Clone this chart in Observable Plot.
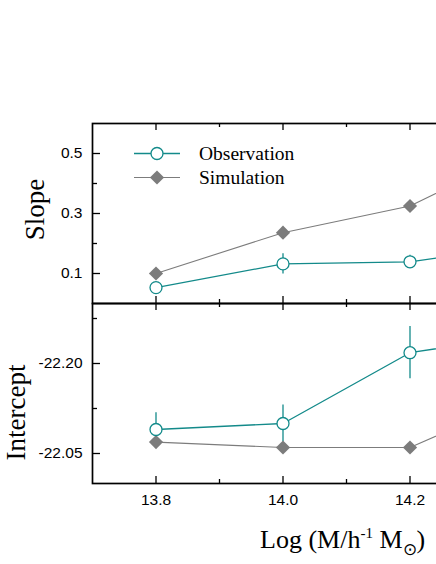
<!DOCTYPE html>
<html>
<head>
<meta charset="utf-8">
<script src="https://cdn.jsdelivr.net/npm/d3@7"></script>
<script src="https://cdn.jsdelivr.net/npm/@observablehq/plot@0.6"></script>
<style>
  html, body { margin: 0; padding: 0; background: white; overflow: hidden; }
  #wrap { position: relative; width: 436px; height: 564px; overflow: hidden; background: white; }
  #wrap > * { position: absolute; left: 0; }
  #xlabel { font-family: "Liberation Serif", serif; font-size: 26px; line-height: 26px; white-space: nowrap; color: #000; }
  #xlabel .sup { font-size: 15px; position: relative; top: -10px; }
  #xlabel .sub { font-size: 17px; position: relative; top: 7px; }
</style>
</head>
<body>
<div id="wrap"></div>
<script>
// ---- data ----
const massBins = [13.8, 14.0, 14.2, 14.4];
const obsSlope = [0.053, 0.132, 0.139, 0.198];
const obsSlopeErr = [0.015, 0.034, 0.022, null];
const simSlope = [0.100, 0.236, 0.325, 0.530];
const obsIntercept = [-22.090, -22.100, -22.218, -22.250];
const obsInterceptErr = [0.028, 0.031, 0.0435, null];
const simIntercept = [-22.069, -22.060, -22.060, -22.153];

const xMajor = [13.8, 14.0, 14.2, 14.4];
const xMinor = [13.9, 14.1, 14.3];
const xTickLabels = [13.8, 14.0, 14.2];
const slopeMajor = [0.1, 0.3, 0.5];
const slopeMinor = [0.2, 0.4];
const interceptMajor = [-22.20, -22.05];
const interceptMinor = [-22.275, -22.125];
const seriesNames = ["Observation", "Simulation"];

// ---- tables ----
const obsS = massBins.map((m, i) => ({m, v: obsSlope[i], e: obsSlopeErr[i]}));
const simS = massBins.map((m, i) => ({m, v: simSlope[i]}));
const obsI = massBins.map((m, i) => ({m, v: obsIntercept[i], e: obsInterceptErr[i]}));
const simI = massBins.map((m, i) => ({m, v: simIntercept[i]}));

const teal = "#138a8a";
const grey = "#7c7c7c";
const W = 610, ML = 92, MR = 10, PH = 180;
const PW = W - ML - MR;
const DIAMOND_R = 6.4;

const baseStyle = {
  background: "transparent", maxWidth: "none", overflow: "visible",
  fontFamily: "'Liberation Sans', Arial, sans-serif", fontSize: "15.5px", color: "black"
};
const tickFont = {fontSize: 15.5, fontFamily: "'Liberation Sans', Arial, sans-serif"};

function panelMarks(obs, sim, major, minor, digits, label, ldx, ldy) {
  return [
    Plot.frame({stroke: "black", strokeWidth: 1.7}),
    Plot.ruleY(major, {insetRight: PW - 8, stroke: "black", strokeWidth: 1.3}),
    Plot.ruleY(minor, {insetRight: PW - 5, stroke: "black", strokeWidth: 1.3}),
    Plot.ruleX(xMajor, {insetBottom: PH - 7, stroke: "black", strokeWidth: 1.3}),
    Plot.ruleX(xMinor, {insetBottom: PH - 4, stroke: "black", strokeWidth: 1.3}),
    Plot.ruleX(xMajor, {insetTop: PH - 7, stroke: "black", strokeWidth: 1.3}),
    Plot.ruleX(xMinor, {insetTop: PH - 4, stroke: "black", strokeWidth: 1.3}),
    Plot.axisY(major, {tickSize: 0, tickPadding: 10, tickFormat: d => d.toFixed(digits), label: null, ...tickFont}),
    Plot.ruleX(obs.filter(d => d.e != null), {x: "m", y1: d => d.v - d.e, y2: d => d.v + d.e, stroke: teal, strokeWidth: 1.3}),
    Plot.line(sim, {x: "m", y: "v", stroke: grey, strokeWidth: 1.1}),
    Plot.dot(sim, {x: "m", y: "v", symbol: "diamond2", r: DIAMOND_R, fill: grey, stroke: "none"}),
    Plot.line(obs, {x: "m", y: "v", stroke: teal, strokeWidth: 1.3}),
    Plot.dot(obs, {x: "m", y: "v", r: 6, fill: "white", stroke: teal, strokeWidth: 1.3}),
    Plot.text([label], {frameAnchor: "left", textAnchor: "middle", lineAnchor: "middle",
      dx: ldx, dy: ldy, rotate: -90, fontSize: 27,
      fontFamily: "'Liberation Serif', serif", text: d => d})
  ];
}

const topPanel = Plot.plot({
  width: W, height: 123 + PH + 10,
  marginTop: 123, marginBottom: 10, marginLeft: ML, marginRight: MR,
  x: {domain: [13.7, 14.5], axis: null},
  y: {domain: [0, 0.6]},
  style: baseStyle,
  marks: panelMarks(obsS, simS, slopeMajor, slopeMinor, 1, "Slope", -57, -4)
});
topPanel.style.top = "0px";

const bottomPanel = Plot.plot({
  width: W, height: 10 + PH + 45,
  marginTop: 10, marginBottom: 45, marginLeft: ML, marginRight: MR,
  x: {domain: [13.7, 14.5], axis: null},
  y: {domain: [-22.3, -22.0], reverse: true},
  style: baseStyle,
  marks: [
    ...panelMarks(obsI, simI, interceptMajor, interceptMinor, 2, "Intercept", -76, 19),
    Plot.axisX(xTickLabels, {tickSize: 0, tickPadding: 10, tickFormat: d => d.toFixed(1), label: null, ...tickFont})
  ]
});
bottomPanel.style.top = (123 + PH - 10) + "px";

const wrap = document.getElementById("wrap");
wrap.appendChild(bottomPanel);
wrap.appendChild(topPanel);

// x label
const xl = document.createElement("div");
xl.id = "xlabel";
xl.style.left = "260px";
xl.style.top = "527px";
xl.innerHTML = 'Log (M/h<span class="sup">-1</span> M<span class="sub">\u2299</span>)';
wrap.appendChild(xl);

// legend
const leg = d3.select(wrap).append("svg")
  .attr("width", 436).attr("height", 564)
  .style("left", "0px").style("top", "0px").style("pointer-events", "none");
seriesNames.forEach((name, i) => {
  const y = 153.5 + i * 24;
  const g = leg.append("g");
  const col = i === 0 ? teal : grey;
  g.append("line").attr("x1", 134).attr("x2", 180).attr("y1", y).attr("y2", y)
    .attr("stroke", col).attr("stroke-width", i === 0 ? 1.3 : 1.1);
  if (i === 0) {
    g.append("circle").attr("cx", 157).attr("cy", y).attr("r", 6)
      .attr("fill", "white").attr("stroke", teal).attr("stroke-width", 1.3);
  } else {
    g.append("path").attr("d", d3.symbol(d3.symbolDiamond2, DIAMOND_R * DIAMOND_R * Math.PI)())
      .attr("transform", `translate(157,${y})`).attr("fill", grey);
  }
  g.append("text").attr("x", 199).attr("y", y + 6.5)
    .attr("font-family", "'Liberation Serif', serif").attr("font-size", 19.5)
    .text(name);
});
</script>
</body>
</html>
